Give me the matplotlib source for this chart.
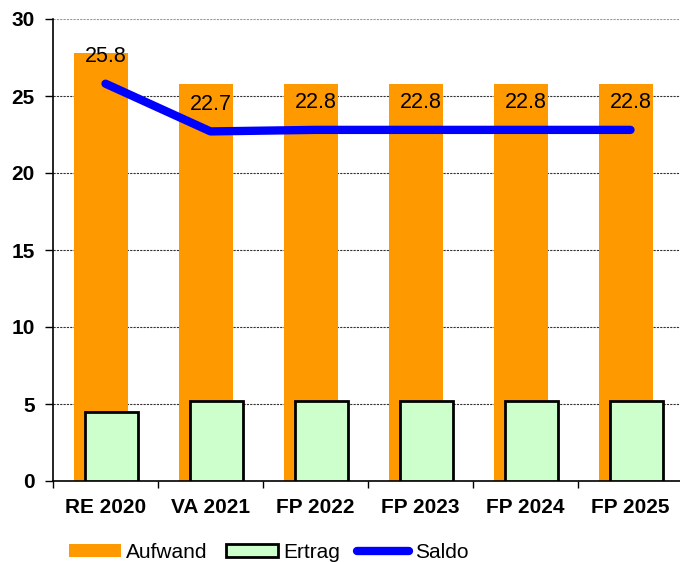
import matplotlib
matplotlib.use("Agg")
import matplotlib.pyplot as plt
from matplotlib.patches import Patch
from matplotlib.lines import Line2D
import numpy as np

plt.rcParams['font.family'] = ['Liberation Sans', 'DejaVu Sans']

categories = ["RE 2020", "VA 2021", "FP 2022", "FP 2023", "FP 2024", "FP 2025"]
aufwand = [27.8, 25.8, 25.8, 25.8, 25.8, 25.8]
ertrag = [4.5, 5.2, 5.2, 5.2, 5.2, 5.2]
saldo = [25.8, 22.7, 22.8, 22.8, 22.8, 22.8]
yticks = [0, 5, 10, 15, 20, 25, 30]

fig = plt.figure(figsize=(6.8, 5.62), dpi=100)
ax = fig.add_axes([53/680, 81/562, 630/680, 462/562])

x = np.arange(len(categories))
w = 0.51
ax.bar(x - 0.045, aufwand, width=w, color="#FF9900", zorder=2)
ax.bar(x + 0.055, ertrag, width=w, color="#CCFFCC", edgecolor="black", linewidth=2.0, zorder=3)
ax.plot(x, saldo, color="#0000FF", linewidth=6, solid_capstyle="round", solid_joinstyle="round", zorder=4)
for xi, v in zip(x, saldo):
    ax.annotate(f"{v:.1f}", (xi, v), xytext=(0, 19.5), textcoords="offset points",
                ha="center", va="center", fontsize=15.5, zorder=5)

ax.set_xlim(-0.5, len(categories) - 0.5)
ax.set_ylim(0, 30)
ax.set_yticks(yticks)
ax.set_yticklabels([str(t) for t in yticks], fontsize=15, fontweight="bold")
ax.set_xticks(x)
ax.set_xticklabels(categories, fontsize=15, fontweight="bold")
ax.set_xticks(np.arange(len(categories) + 1) - 0.5, minor=True)
ax.tick_params(axis="x", which="major", length=0, pad=12)
ax.tick_params(axis="x", which="minor", length=5, width=1, direction="out")
ax.tick_params(axis="y", length=6, width=1, direction="out", pad=7)
ax.yaxis.grid(True, linestyle=(0, (2, 1)), color="#333333", linewidth=0.8, zorder=0)
ax.get_ygridlines()[-1].set_color("#999999")
ax.set_axisbelow(True)
for s in ["top", "right"]:
    ax.spines[s].set_visible(False)
ax.spines["left"].set_linewidth(1.2)
ax.spines["bottom"].set_linewidth(1.2)

handles = [
    Patch(facecolor="#FF9900", edgecolor="none", label="Aufwand"),
    Patch(facecolor="#CCFFCC", edgecolor="black", linewidth=2.0, label="Ertrag"),
    Line2D([0], [0], color="#0000FF", linewidth=6, solid_capstyle="round", label="Saldo"),
]
fig.legend(handles=handles, loc="center", bbox_to_anchor=(0.395, 0.017), ncol=3,
           frameon=False, fontsize=15, handlelength=2.5, handleheight=0.55,
           handletextpad=0.25, columnspacing=0.85)

fig.savefig("out.png", dpi=100)
